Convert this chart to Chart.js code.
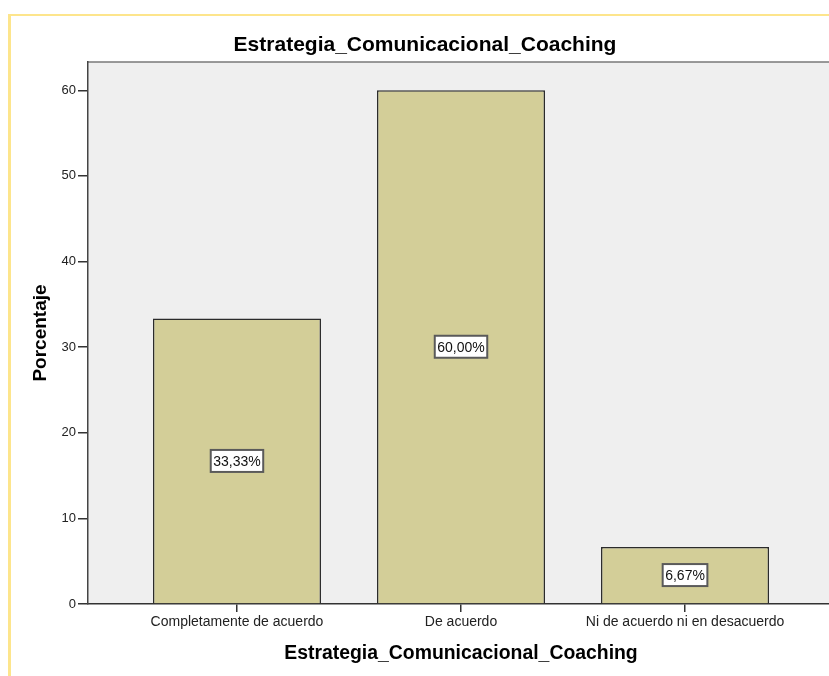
<!DOCTYPE html>
<html>
<head>
<meta charset="utf-8">
<script src="https://cdn.jsdelivr.net/npm/chart.js@4/dist/chart.umd.min.js"></script>
<style>
  html, body { margin: 0; padding: 0; overflow: hidden; background: #fff; }
  #frame { position: absolute; left: 8px; top: 14px; width: 900px; height: 700px;
           border-top: 2px solid #fde58c; border-left: 3px solid #fde58c; }
  #chart { position: absolute; left: 0; top: 0; }
</style>
</head>
<body>
<div id="frame"></div>
<canvas id="chart" width="840" height="676"></canvas>
<script>
// SPSS style bar chart, percent per answer
const categories = ['Completamente de acuerdo', 'De acuerdo', 'Ni de acuerdo ni en desacuerdo'];
const percents = [33.33, 60.00, 6.67];
const yTicks = [0, 10, 20, 30, 40, 50, 60];
const chartTitle = 'Estrategia_Comunicacional_Coaching';
const xTitle = 'Estrategia_Comunicacional_Coaching';
const yTitle = 'Porcentaje';

const FONT = '"Liberation Sans", Arial, sans-serif';

// gray plot background + frame
const plotBg = {
  id: 'plotBg',
  beforeDraw(chart) {
    const { ctx, chartArea: a } = chart;
    ctx.save();
    ctx.fillStyle = '#efefef';
    ctx.fillRect(a.left, a.top, a.right - a.left, a.bottom - a.top);
    ctx.strokeStyle = '#7a7a7a';
    ctx.lineWidth = 1.5;
    ctx.beginPath();
    ctx.moveTo(a.left, a.top);
    ctx.lineTo(a.right, a.top);
    ctx.lineTo(a.right, a.bottom);
    ctx.stroke();
    ctx.restore();
  }
};

// white boxes with the percent in the middle of each bar
const barLabels = {
  id: 'barLabels',
  afterDatasetsDraw(chart) {
    const { ctx } = chart;
    const meta = chart.getDatasetMeta(0);
    ctx.save();
    ctx.font = '14px ' + FONT;
    ctx.textAlign = 'center';
    ctx.textBaseline = 'middle';
    meta.data.forEach((bar, i) => {
      const txt = percents[i].toFixed(2).replace('.', ',') + '%';
      const cy = (bar.y + bar.base) / 2;
      const w = ctx.measureText(txt).width + 5;
      const h = 22;
      ctx.fillStyle = '#ffffff';
      ctx.fillRect(bar.x - w / 2, cy - h / 2, w, h);
      ctx.strokeStyle = '#5a5a5a';
      ctx.lineWidth = 2;
      ctx.strokeRect(bar.x - w / 2, cy - h / 2, w, h);
      ctx.fillStyle = '#111111';
      ctx.fillText(txt, bar.x, cy + 1);
    });
    ctx.restore();
  }
};

new Chart(document.getElementById('chart'), {
  type: 'bar',
  data: {
    datasets: [{
      data: categories.map((c, i) => ({ x: i + 1, y: percents[i] })),
      backgroundColor: '#d3ce98',
      borderColor: '#2b2b2b',
      borderWidth: 1.5,
      barPercentage: 0.75,
      categoryPercentage: 1
    }]
  },
  options: {
    responsive: false,
    animation: false,
    layout: { padding: { left: 16, right: 6, top: 0, bottom: 0 } },
    plugins: {
      legend: { display: false },
      tooltip: { enabled: false },
      title: {
        display: true,
        text: chartTitle,
        color: '#000',
        font: { family: FONT, size: 21, weight: 'bold' },
        padding: { top: 32.4, bottom: 4.4 }
      }
    },
    scales: {
      x: {
        type: 'linear',
        min: 0.335,
        max: 3.665,
        offset: false,
        afterBuildTicks: (s) => { s.ticks = categories.map((c, i) => ({ value: i + 1 })); },
        afterFit: (s) => { s.height = 72; },
        grid: { offset: false, drawOnChartArea: false, drawTicks: true, tickLength: 8, color: '#333', lineWidth: 1.5 },
        border: { display: true, color: '#333', width: 1.5 },
        ticks: {
          autoSkip: false,
          maxRotation: 0,
          padding: 1.6,
          color: '#222',
          font: { family: FONT, size: 14 },
          callback: (v) => categories[v - 1]
        },
        title: {
          display: true,
          text: xTitle,
          color: '#000',
          font: { family: FONT, size: 19.4, weight: 'bold' },
          padding: { top: 0, bottom: 10.4 }
        }
      },
      y: {
        min: 0,
        max: 63.3,
        afterBuildTicks: (s) => { s.ticks = yTicks.map(v => ({ value: v })); },
        afterFit: (s) => { s.width = 72; },
        grid: { drawOnChartArea: false, drawTicks: true, tickLength: 10, color: '#333', lineWidth: 1.5 },
        border: { display: true, color: '#444', width: 1.5 },
        ticks: {
          padding: 2,
          color: '#222',
          font: { family: FONT, size: 13 }
        },
        title: {
          display: true,
          text: yTitle,
          color: '#000',
          font: { family: FONT, size: 19, weight: 'bold' },
          padding: { top: 13.6, bottom: 0 }
        }
      }
    }
  },
  plugins: [plotBg, barLabels]
});
</script>
</body>
</html>
